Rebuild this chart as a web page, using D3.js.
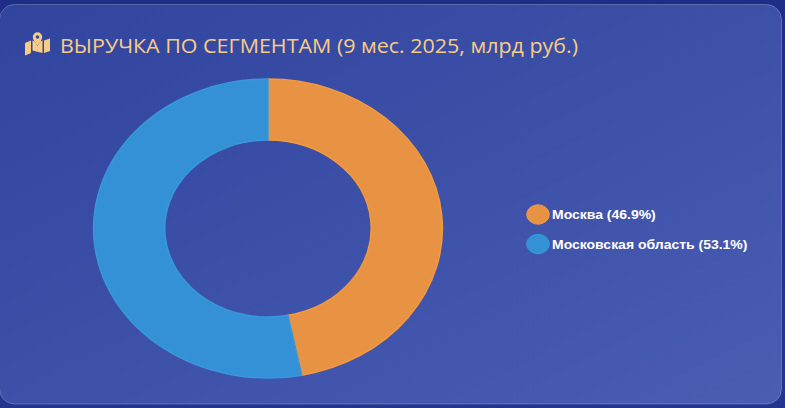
<!DOCTYPE html>
<html><head><meta charset="utf-8">
<script src="https://cdn.jsdelivr.net/npm/d3@7/dist/d3.min.js"></script>
<style>
html,body{margin:0;padding:0;width:785px;height:408px;overflow:hidden;background:linear-gradient(180deg,#1e2d86 0%,#24358f 100%);}
svg{display:block;}
</style></head>
<body>
<svg id="c" width="785" height="408"></svg>
<script>
const title = "ВЫРУЧКА ПО СЕГМЕНТАМ (9 мес. 2025, млрд руб.)";
const categories = ["Москва", "Московская область"];
const values = [46.9, 53.1];
const colors = ["#e89244", "#3591d6"];
const borders = ["#f49a3c", "#3798dc"];

const svg = d3.select("#c");
const defs = svg.append("defs");
const g = defs.append("linearGradient").attr("id","bg").attr("x1","0").attr("y1","0").attr("x2","1").attr("y2","1");
g.append("stop").attr("offset","0%").attr("stop-color","#31449e");
g.append("stop").attr("offset","100%").attr("stop-color","#4a5db3");

svg.append("rect").attr("x",-0.5).attr("y",4.5).attr("width",782).attr("height",399.5)
  .attr("rx",15).attr("fill","url(#bg)").attr("stroke","rgba(255,255,255,0.22)").attr("stroke-width",1);

// icon (map with marker)
const ic = svg.append("g").attr("fill","#f7cd86");
ic.append("path").attr("d","M25,43 L31,40.5 L31,53 L25,55.5 Z");
ic.append("path").attr("d","M32.5,40.5 L35,41.5 L37.5,46 L40,41.5 L42.5,40.5 L42.5,53 L32.5,50.5 Z");
ic.append("path").attr("d","M44,40.5 L50,38.5 L50,51 L44,53 Z");
ic.append("path").attr("d","M37.5,45.5 C35,42 32.8,39.5 32.8,37 A4.7,4.7 0 0 1 42.2,37 C42.2,39.5 40,42 37.5,45.5 Z");
svg.append("circle").attr("cx",37.5).attr("cy",37).attr("r",1.8).attr("fill","#3548a0");

const t = svg.append("text").attr("x",60).attr("y",53).attr("fill","#f7cd86")
  .attr("font-family","'Open Sans','Noto Sans',sans-serif").attr("font-size",20)
  .attr("textLength",518).attr("lengthAdjust","spacingAndGlyphs").text(title);

// donut, stretched horizontally like the source canvas
const sx = 175/150;
const cg = svg.append("g").attr("transform",`translate(268,228.5) scale(${sx},1)`);
const pie = d3.pie().sort(null).value(d=>d)(values);
const arc = d3.arc().innerRadius(88.5).outerRadius(149.5);
cg.selectAll("path").data(pie).join("path")
  .attr("d",arc).attr("fill",(d,i)=>colors[i]).attr("stroke",(d,i)=>borders[i])
  .attr("stroke-width",1.5).attr("vector-effect","non-scaling-stroke");

const total = d3.sum(values);
const yScale = d3.scalePoint().domain(categories).range([214.5,244]);
const lg = svg.append("g");
categories.forEach((c,i)=>{
  const y = yScale(c);
  lg.append("ellipse").attr("cx",538).attr("cy",y).attr("rx",11.3).attr("ry",9.7)
    .attr("fill",colors[i]).attr("stroke",borders[i]).attr("stroke-width",1);
  lg.append("g").attr("transform",`translate(552,${y+4.5}) scale(${sx},1)`)
    .append("text").attr("fill","#ffffff").attr("font-family","'Liberation Sans',Arial,sans-serif")
    .attr("font-weight","bold").attr("font-size",12)
    .text(`${c} (${(values[i]/total*100).toFixed(1)}%)`);
});
</script>
</body></html>
